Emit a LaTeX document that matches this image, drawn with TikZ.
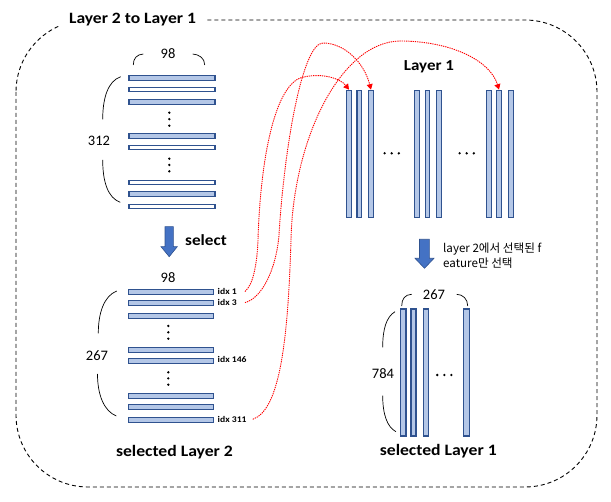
\documentclass[tikz,border=0pt]{standalone}
\usepackage{fontspec}
\setmainfont{Carlito}[BoldFeatures={FakeStretch=1.11}]
\newfontfamily\krfont{Noto Sans CJK KR}
\usetikzlibrary{arrows.meta}
\definecolor{barfill}{HTML}{B4C7E7}
\definecolor{barline}{HTML}{2F528F}
\definecolor{arrowblue}{HTML}{4472C4}
\definecolor{arrowline}{HTML}{2F528F}
\begin{document}
\begin{tikzpicture}[x=1pt,y=-1pt,
  hbar/.style={rectangle, draw=barline, line width=1.1pt, fill=barfill, minimum width=86pt, minimum height=5pt, inner sep=0pt},
  hbarw/.style={hbar, fill=white, minimum height=4pt},
  vbar/.style={rectangle, draw=barline, line width=1.1pt, fill=barfill, minimum width=5pt, minimum height=127pt, inner sep=0pt},
  dotnode/.style={circle, fill=black, inner sep=0pt, minimum size=2.6pt},
  bracepath/.style={draw=black, line width=0.7pt},
  redlink/.style={draw=red, line width=0.9pt, dash pattern=on 1.3pt off 0.9pt, -{Triangle[width=6pt,length=5.5pt]}},
  numlabel/.style={font=\fontsize{14.5}{16}\selectfont, inner sep=0pt},
  idxlabel/.style={font=\bfseries\fontsize{8.7}{10}\selectfont, anchor=west, inner sep=0pt},
  biglabel/.style={font=\bfseries\fontsize{15.9}{19}\selectfont, inner sep=0pt},
  blockarrow/.style={fill=arrowblue, draw=arrowline, line width=0.6pt}
]
\useasboundingbox (0,0) rectangle (611,502);

% frame
\draw[line width=0.9pt, dash pattern=on 4pt off 3pt, rounded corners=72pt] (16,20) rectangle (597,487);
\node[fill=white, inner xsep=9pt, inner ysep=2pt, font=\bfseries\fontsize{15.8}{18}\selectfont] (title) at (132.5,20) {Layer 2 to Layer 1};

% ---------- Layer 2 (top left) ----------
\node[hbar]  (a1) at (172,77.8) {};
\node[hbarw] (a2) at (172,89.3) {};
\node[hbar]  (a3) at (172,101.8) {};
\node[hbar]  (a4) at (172,135.8) {};
\node[hbarw] (a5) at (172,147.3) {};
\node[hbarw] (a6) at (172,182.3) {};
\node[hbar]  (a7) at (172,193.8) {};
\node[hbarw] (a8) at (172,206.3) {};
\node[dotnode] (ad1) at (169.3,112.7) {};
\node[dotnode] (ad2) at (169.3,119.2) {};
\node[dotnode] (ad3) at (169.3,125.7) {};
\node[dotnode] (ad4) at (169.3,158.7) {};
\node[dotnode] (ad5) at (169.3,165.0) {};
\node[dotnode] (ad6) at (169.3,171.3) {};
\node[numlabel] (a98) at (168,54) {98};
\draw[bracepath] (133.3,65) .. controls (133.3,58) and (137,54.5) .. (143.3,54);
\draw[bracepath] (192.7,54) .. controls (199,54.5) and (204.7,58) .. (204.7,65);
\node[numlabel] (a312) at (99,141) {312};
\draw[bracepath] (120.7,76.7) .. controls (108,81) and (102.7,98) .. (102.7,119.3);
\draw[bracepath] (102.7,160) .. controls (102.7,182) and (108,198) .. (120.3,202.3);

% select arrow
\draw[blockarrow] (165,226.7) -- (173.3,226.7) -- (173.3,246.7) -- (177.3,246.7) -- (169.2,256.7) -- (161,246.7) -- (165,246.7) -- cycle;
\node[font=\bfseries\fontsize{15.5}{17}\selectfont, anchor=west, inner sep=0pt] (sel) at (185,240) {select};

% ---------- selected Layer 2 ----------
\node[hbar, minimum width=85pt] (b1) at (170.8,291.8) {};
\node[hbar, minimum width=85pt] (b2) at (170.8,302.8) {};
\node[hbar, minimum width=85pt] (b3) at (170.8,315.8) {};
\node[hbar, minimum width=85pt] (b4) at (170.8,349.7) {};
\node[hbar, minimum width=85pt] (b5) at (170.8,360.8) {};
\node[hbar, minimum width=85pt] (b6) at (170.8,395.8) {};
\node[hbar, minimum width=85pt] (b7) at (170.8,406.8) {};
\node[hbar, minimum width=85pt] (b8) at (170.8,419.8) {};
\node[dotnode] (bd1) at (168.3,326.0) {};
\node[dotnode] (bd2) at (168.3,332.3) {};
\node[dotnode] (bd3) at (168.3,338.7) {};
\node[dotnode] (bd4) at (168.3,372.3) {};
\node[dotnode] (bd5) at (168.3,378.4) {};
\node[dotnode] (bd6) at (168.3,384.7) {};
\node[idxlabel] (i1) at (217.5,291.5) {idx 1};
\node[idxlabel] (i3) at (217.5,302.6) {idx 3};
\node[idxlabel] (i146) at (217.5,359.6) {idx 146};
\node[idxlabel] (i311) at (217.5,419.3) {idx 311};
\node[numlabel] (b98) at (168,277.5) {98};
\node[numlabel] (b267) at (97,356) {267};
\draw[bracepath] (116.7,291) .. controls (104,296) and (98.3,313) .. (98.3,333.3);
\draw[bracepath] (97.5,374) .. controls (97.5,395) and (104,411) .. (116.3,416);
\node[biglabel] (sl2) at (174.5,452) {selected Layer 2};

% ---------- Layer 1 ----------
\node[font=\bfseries\fontsize{15.3}{19}\selectfont, inner sep=0pt] (l1title) at (429,67) {Layer 1};
\node[vbar, minimum width=5.4pt] (c1) at (349,153.7) {};
\node[vbar, minimum width=4.4pt] (c2) at (359.2,153.7) {};
\node[vbar, minimum width=5.4pt] (c3) at (371,153.7) {};
\node[vbar, minimum width=5.4pt] (c4) at (417,153.7) {};
\node[vbar, minimum width=4.4pt] (c5) at (427.5,153.7) {};
\node[vbar, minimum width=5.4pt] (c6) at (439,153.7) {};
\node[vbar, minimum width=5.4pt] (c7) at (489,153.7) {};
\node[vbar, minimum width=5.4pt] (c8) at (499,153.7) {};
\node[vbar, minimum width=5.4pt] (c9) at (511,153.7) {};
\node[dotnode] (cd1) at (384.6,153.3) {};
\node[dotnode] (cd2) at (391.7,153.3) {};
\node[dotnode] (cd3) at (398.8,153.3) {};
\node[dotnode] (cd4) at (459.6,153.3) {};
\node[dotnode] (cd5) at (466.7,153.3) {};
\node[dotnode] (cd6) at (473.8,153.3) {};

% red links
\draw[redlink] ([xshift=8pt]i1.east) .. controls (253,285) and (257,265) .. (258,240)
   .. controls (260,170) and (272,90) .. (300,78) .. controls (320,72) and (340,78) .. (c1.north);
\draw[redlink] ([xshift=8pt]i3.east) .. controls (262,298) and (276,270) .. (279,235)
   .. controls (284,150) and (302,43) .. (323,43) .. controls (344,43) and (364,62) .. (c3.north);
\draw[redlink] ([xshift=6pt]i311.east) .. controls (280,410) and (288,340) .. (291,240)
   .. controls (293,140) and (340,42) .. (400,41) .. controls (450,41) and (490,60) .. (c8.north);

% right arrow
\draw[blockarrow] (419.5,239.3) -- (429.3,239.3) -- (429.3,258.3) -- (434,258.3) -- (424.5,268.3) -- (415,258.3) -- (419.5,258.3) -- cycle;
\node[anchor=west, align=left, inner sep=0pt, font=\krfont\fontsize{11.6}{15}\selectfont] (note) at (443,256)
  {layer 2에서 선택된 f\\eature만 선택};

% ---------- selected Layer 1 ----------
\node[vbar, minimum width=5.3pt] (d1) at (403.3,372.5) {};
\node[vbar, minimum width=5pt]   (d2) at (413.5,372.5) {};
\node[vbar, minimum width=4.7pt] (d3) at (425.7,372.5) {};
\node[vbar, minimum width=5.7pt] (d4) at (466.2,372.5) {};
\node[dotnode] (dd1) at (437.2,375) {};
\node[dotnode] (dd2) at (444.3,375) {};
\node[dotnode] (dd3) at (451.4,375) {};
\node[numlabel] (d267) at (434,295) {267};
\draw[bracepath] (401.7,306) .. controls (401.7,299) and (405,294.5) .. (411.7,294.3);
\draw[bracepath] (456.7,294.3) .. controls (463,294.5) and (467.7,299) .. (467.7,306);
\node[numlabel] (d784) at (383,373.5) {784};
\draw[bracepath] (395,311.7) .. controls (386,317) and (382.7,330) .. (382.7,347.3);
\draw[bracepath] (382.7,395.7) .. controls (382.7,414) and (387,427) .. (396,431.7);
\node[biglabel] (sl1) at (438.3,451) {selected Layer 1};
\end{tikzpicture}
\end{document}
